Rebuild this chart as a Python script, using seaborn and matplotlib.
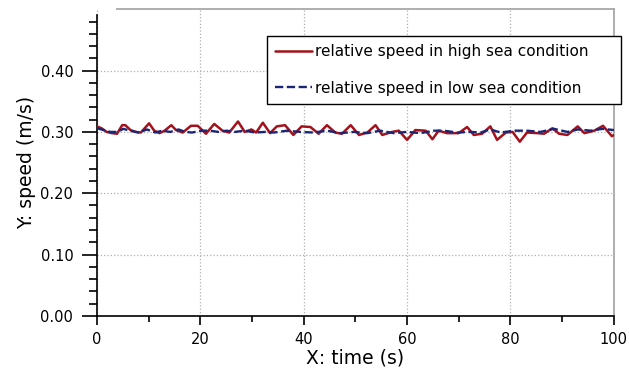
import pandas as pd
import matplotlib
matplotlib.use("Agg")
import matplotlib.pyplot as plt
from matplotlib.ticker import MultipleLocator, FixedLocator
import seaborn as sns

# valores
t_high = [0, 0.9, 1.9, 2.9, 3.9, 4.9, 5.5, 6.5, 7.5, 8.5, 10.1, 11.1, 12.1, 13.1,
          14.4, 15.3, 16.6, 18.2, 19.5, 21.1, 22.7, 24.3, 25.6, 27.3, 28.6, 29.9,
          30.8, 32.1, 33.5, 34.8, 36.4, 38.0, 39.6, 41.3, 42.9, 44.5, 46.1, 47.4,
          49.1, 50.7, 52.3, 53.9, 55.2, 57.1, 58.4, 60.0, 61.6, 63.6, 64.9, 66.1,
          67.7, 70.0, 71.6, 72.9, 74.5, 76.1, 77.4, 79.1, 80.4, 81.8, 83.2, 85.2,
          86.5, 88.1, 89.4, 91.0, 93.0, 94.3, 96.2, 97.9, 99.6, 100]
v_high = [0.309, 0.306, 0.300, 0.298, 0.297, 0.311, 0.311, 0.303, 0.300, 0.299,
          0.314, 0.302, 0.298, 0.302, 0.311, 0.303, 0.299, 0.310, 0.310, 0.297,
          0.313, 0.302, 0.299, 0.317, 0.300, 0.304, 0.299, 0.315, 0.298, 0.309,
          0.311, 0.295, 0.309, 0.308, 0.297, 0.311, 0.299, 0.297, 0.311, 0.295,
          0.299, 0.311, 0.295, 0.300, 0.302, 0.287, 0.303, 0.302, 0.288, 0.302,
          0.298, 0.298, 0.308, 0.295, 0.297, 0.309, 0.287, 0.299, 0.300, 0.284,
          0.299, 0.298, 0.297, 0.306, 0.297, 0.295, 0.309, 0.298, 0.302, 0.310,
          0.293, 0.295]

t_low = [0, 1.3, 2.6, 3.9, 5.1, 6.4, 8.1, 9.7, 11.3, 12.6, 14.2, 15.8, 17.1, 18.4,
         20.3, 21.9, 23.5, 25.1, 26.7, 28.6, 30.6, 32.6, 34.2, 36.8, 39.3, 41.9,
         44.5, 47.1, 49.7, 52.3, 54.8, 57.4, 60.0, 62.6, 65.2, 67.1, 69.7, 72.3,
         74.2, 76.1, 78.1, 80.7, 83.2, 85.8, 88.4, 91.0, 93.0, 95.5, 97.8, 100]
v_low = [0.306, 0.303, 0.300, 0.300, 0.305, 0.302, 0.299, 0.304, 0.299, 0.302,
         0.300, 0.304, 0.300, 0.299, 0.302, 0.302, 0.300, 0.302, 0.300, 0.302,
         0.299, 0.300, 0.299, 0.302, 0.300, 0.299, 0.302, 0.298, 0.300, 0.298,
         0.302, 0.298, 0.300, 0.298, 0.302, 0.302, 0.299, 0.300, 0.299, 0.304,
         0.299, 0.302, 0.302, 0.300, 0.305, 0.300, 0.304, 0.302, 0.305, 0.303]

lbl_high = "relative speed in high sea condition"
lbl_low = "relative speed in low sea condition"
y_ticks = [0.0, 0.1, 0.2, 0.3, 0.4]
x_ticks = [0, 20, 40, 60, 80, 100]

df_high = pd.DataFrame({"t": t_high, "v": v_high})
df_low = pd.DataFrame({"t": t_low, "v": v_low})

sns.set_style("white")
plt.rcParams["font.family"] = ["DejaVu Sans"]
plt.rcParams["text.color"] = "black"
plt.rcParams["axes.labelcolor"] = "black"
plt.rcParams["xtick.color"] = "black"
plt.rcParams["ytick.color"] = "black"

fig, ax = plt.subplots(figsize=(6.29, 3.72), dpi=100)
fig.subplots_adjust(left=0.154, right=0.976, bottom=0.151, top=0.975)

sns.lineplot(data=df_high, x="t", y="v", ax=ax, color="#a3121c", lw=1.8,
             label=lbl_high, sort=False, zorder=3)
sns.lineplot(data=df_low, x="t", y="v", ax=ax, color="#1b2575", lw=1.7,
             label=lbl_low, sort=False, zorder=4)
ax.lines[1].set_dashes([3.5, 1.5])

ax.set_xlim(0, 100)
ax.set_ylim(0, 0.5)

ax.xaxis.set_major_locator(FixedLocator(x_ticks))
ax.xaxis.set_minor_locator(MultipleLocator(10))
ax.yaxis.set_major_locator(FixedLocator(y_ticks))
ax.yaxis.set_minor_locator(FixedLocator([i * 0.02 for i in range(25)]))
ax.set_yticklabels([f"{v:.2f}" for v in y_ticks])

ax.tick_params(axis="y", which="major", direction="out", length=11, width=1.2,
               labelsize=10.5, pad=6, color="black", labelcolor="black", left=True)
ax.tick_params(axis="y", which="minor", direction="out", length=6, width=1.2,
               left=True)
ax.tick_params(axis="x", which="major", direction="out", length=6.5, width=1.2,
               labelsize=10.5, pad=5, color="black", labelcolor="black", bottom=True)
ax.tick_params(axis="x", which="minor", direction="out", length=4.5, width=1.2,
               bottom=True)

ax.grid(True, which="major", color="#b0b0b0", linestyle=":", linewidth=0.9)

for s in ["left", "bottom"]:
    ax.spines[s].set_color("black")
    ax.spines[s].set_linewidth(1.2)
ax.spines["left"].set_bounds(0, 0.49)
for s in ["top", "right"]:
    ax.spines[s].set_color("#a8a8a8")
    ax.spines[s].set_linewidth(1.3)
ax.spines["top"].set_bounds(3.8, 100)

ax.set_xlabel("X: time (s)", fontsize=13.5, labelpad=1, color="black")
ax.set_ylabel("Y: speed (m/s)", fontsize=13.5, labelpad=3, color="black")

leg = ax.legend(loc="upper left", bbox_to_anchor=(0.329, 0.675, 0.685, 0.2385),
                mode="expand", borderaxespad=0, fontsize=11, handlelength=2.4,
                handletextpad=0.2, labelspacing=1.4, borderpad=0.55,
                fancybox=False, framealpha=1, edgecolor="black")
leg.get_frame().set_linewidth(1.0)
leg.set_zorder(5)
for txt in leg.get_texts():
    txt.set_color("black")

plt.savefig("out.png", dpi=100)
